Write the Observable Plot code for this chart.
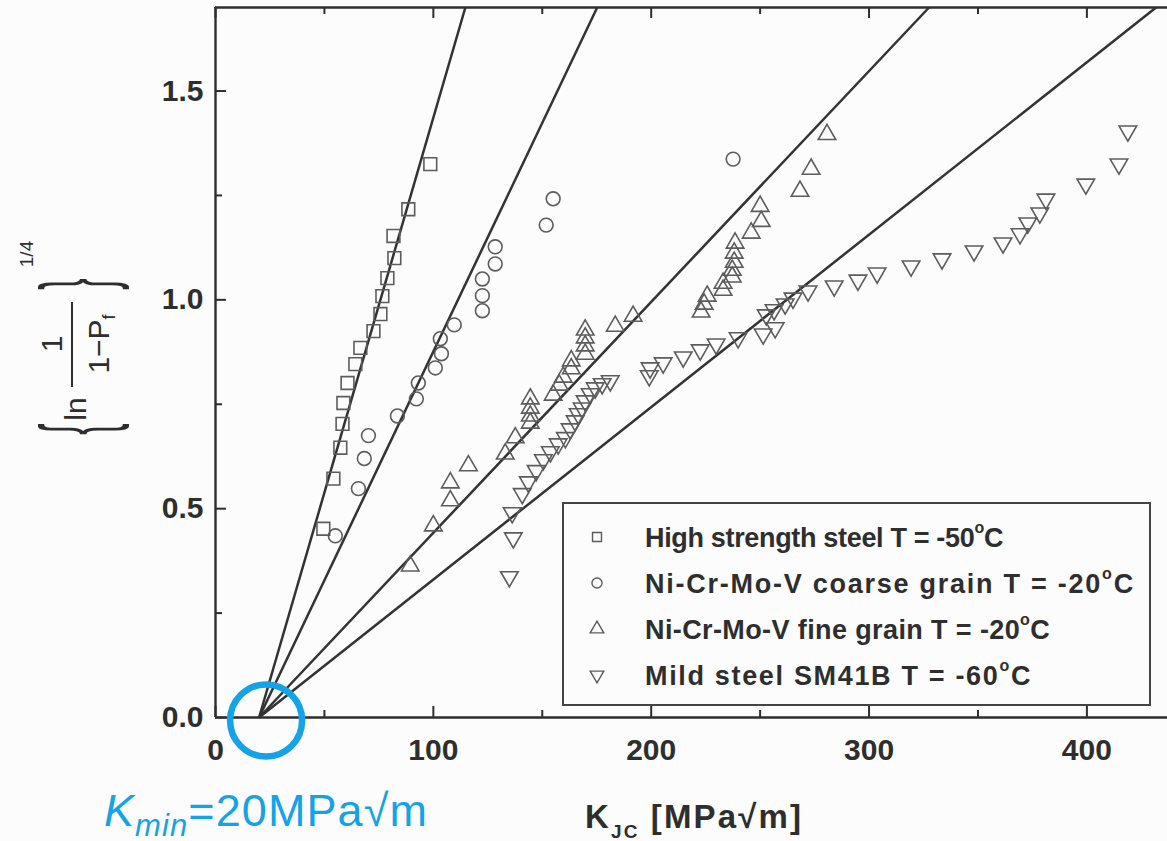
<!DOCTYPE html>
<html><head><meta charset="utf-8">
<script src="https://cdn.jsdelivr.net/npm/d3@7"></script>
<script src="https://cdn.jsdelivr.net/npm/@observablehq/plot@0.6"></script>
<style>html,body{margin:0;padding:0;background:#fff;overflow:hidden;} svg{display:block}</style>
</head><body><div id="chart"></div>
<script>
// ---------- data ----------
const seriesNames = [
  "High strength steel T = -50",
  "Ni-Cr-Mo-V coarse grain T = -20",
  "Ni-Cr-Mo-V fine grain T = -20",
  "Mild steel SM41B T = -60"
];
const highStrengthK = [98.6, 88.5, 81.7, 82.1, 78.9, 76.6, 75.7, 72.5, 66.5, 64.2, 60.6, 58.7, 58.3, 57.3, 54.1, 49.5];
const highStrengthY = [1.325, 1.217, 1.153, 1.100, 1.052, 1.009, 0.966, 0.925, 0.885, 0.846, 0.801, 0.753, 0.703, 0.646, 0.572, 0.452];

const coarseK = [237.6, 155.0, 151.8, 128.4, 128.4, 122.5, 122.5, 122.5, 109.6, 103.2, 103.7, 100.9, 93.1, 92.2, 83.5, 70.2, 68.3, 65.6, 55.0];
const coarseY = [1.337, 1.242, 1.179, 1.127, 1.086, 1.050, 1.010, 0.974, 0.940, 0.907, 0.871, 0.837, 0.801, 0.763, 0.722, 0.675, 0.620, 0.548, 0.435];

const fineK = [280.7, 273.4, 268.3, 250.0, 250.5, 245.9, 238.5, 238.1, 238.1, 237.2, 237.2, 233.0, 233.0, 225.7, 224.3, 222.9, 191.7, 183.5, 169.7, 169.7, 169.7, 169.7, 163.3, 163.3, 159.6, 157.8, 155.0, 144.5, 144.5, 144.5, 144.5, 137.6, 133.0, 116.1, 107.8, 107.8, 100.0, 89.4];
const fineY = [1.396, 1.313, 1.260, 1.224, 1.188, 1.160, 1.136, 1.112, 1.090, 1.071, 1.055, 1.040, 1.023, 1.009, 0.990, 0.971, 0.961, 0.937, 0.928, 0.909, 0.890, 0.870, 0.854, 0.835, 0.815, 0.796, 0.772, 0.763, 0.741, 0.722, 0.705, 0.670, 0.631, 0.603, 0.562, 0.519, 0.459, 0.363];

const mildK = [418.8, 414.7, 399.5, 381.2, 378.4, 372.9, 369.3, 361.5, 348.2, 333.5, 319.3, 303.7, 294.9, 284.0, 272.0, 265.1, 261.5, 256.4, 252.8, 256.9, 251.4, 239.9, 229.8, 222.5, 214.7, 205.5, 199.5, 199.1, 181.2, 177.5, 174.3, 172.0, 169.7, 168.3, 166.5, 165.1, 162.8, 160.6, 157.3, 153.7, 150.5, 147.2, 143.6, 140.8, 136.2, 136.7, 134.9];
const mildY = [1.404, 1.325, 1.277, 1.241, 1.208, 1.184, 1.158, 1.136, 1.117, 1.098, 1.081, 1.064, 1.047, 1.033, 1.021, 1.004, 0.990, 0.976, 0.964, 0.933, 0.918, 0.909, 0.894, 0.880, 0.863, 0.849, 0.837, 0.818, 0.806, 0.799, 0.789, 0.775, 0.758, 0.741, 0.727, 0.710, 0.691, 0.670, 0.655, 0.636, 0.617, 0.591, 0.564, 0.536, 0.490, 0.430, 0.337];

// Weibull fits: K0 (MPa√m) per series, common Kmin
const Kmin = 20;
const fitK0 = [75.7, 111.3, 200.9, 262.2];

const xTickLabels = [0, 100, 200, 300, 400];
const xMinorTicks = [50, 150, 250, 350];
const yTickLabels = [0.0, 0.5, 1.0, 1.5];
const yMinorTicks = [0.25, 0.75, 1.25];

// ---------- layout ----------
const W = 1167, H = 841;
const mL = 215, mR = 0, mT = 7, mB = 124;
const xMax = 437, yMax = 1.7;
const pxX = xMax / (W - mL - mR);
const pxY = yMax / (H - mT - mB);
const ink = "#2e2e2e";
const markInk = "#5c5c5c";
const blue = "#14a3e6";
const legendWidths = [358, 490, 405, 387];

const pts = (ks, ys) => ks.map((k, i) => ({k, p: ys[i]}));
const invTri = {
  draw(ctx, size) {
    const y = -Math.sqrt(size / (3 * Math.sqrt(3)));
    ctx.moveTo(0, -y * 2);
    ctx.lineTo(-Math.sqrt(3) * y, y);
    ctx.lineTo(Math.sqrt(3) * y, y);
    ctx.closePath();
  }
};
const fits = fitK0.map(k0 => ({k0, kTop: Kmin + yMax * (k0 - Kmin)}));

const chart = Plot.plot({
  width: W, height: H,
  marginLeft: mL, marginRight: mR, marginTop: mT, marginBottom: mB,
  x: {domain: [0, xMax], axis: null},
  y: {domain: [0, yMax], axis: null},
  style: {background: "#fcfcfc", fontFamily: "'Liberation Sans', Arial, sans-serif", color: ink, overflow: "visible"},
  marks: [
    // frame
    Plot.ruleY([0], {stroke: ink, strokeWidth: 2.6}),
    Plot.ruleY([yMax], {stroke: ink, strokeWidth: 2.4}),
    Plot.ruleX([0], {stroke: ink, strokeWidth: 2.4}),
    // inward ticks
    Plot.ruleX(xTickLabels, {x: d => d, y1: 0, y2: 11 * pxY, stroke: ink, strokeWidth: 2}),
    Plot.ruleX(xMinorTicks, {x: d => d, y1: 0, y2: 7 * pxY, stroke: ink, strokeWidth: 2}),
    Plot.ruleX(xTickLabels, {x: d => d, y1: yMax - 11 * pxY, y2: yMax, stroke: ink, strokeWidth: 2}),
    Plot.ruleX(xMinorTicks, {x: d => d, y1: yMax - 7 * pxY, y2: yMax, stroke: ink, strokeWidth: 2}),
    Plot.ruleY(yTickLabels, {y: d => d, x1: 0, x2: 11 * pxX, stroke: ink, strokeWidth: 2}),
    Plot.ruleY(yMinorTicks, {y: d => d, x1: 0, x2: 7 * pxX, stroke: ink, strokeWidth: 2}),
    // tick labels
    Plot.text(xTickLabels, {x: d => d, y: 0, dy: 33, text: d => String(d), fontSize: 30, fontWeight: "bold", fill: ink}),
    Plot.text(yTickLabels, {x: 0, y: d => d, dx: -12, textAnchor: "end", text: d => d.toFixed(1), fontSize: 30, fontWeight: "bold", fill: ink}),
    // fitted lines
    Plot.link(fits, {x1: Kmin, y1: 0, x2: d => d.kTop, y2: yMax, stroke: "#333", strokeWidth: 2.5}),
    // data
    Plot.dot(pts(highStrengthK, highStrengthY), {x: "k", y: "p", symbol: "square", r: 7.2, stroke: markInk, strokeWidth: 1.6, fill: "none"}),
    Plot.dot(pts(coarseK, coarseY), {x: "k", y: "p", symbol: "circle", r: 6.9, stroke: markInk, strokeWidth: 1.6, fill: "none"}),
    Plot.dot(pts(fineK, fineY), {x: "k", y: "p", symbol: "triangle", r: 6.5, stroke: markInk, strokeWidth: 1.6, fill: "none"}),
    Plot.dot(pts(mildK, mildY), {x: "k", y: "p", symbol: invTri, r: 6.5, stroke: markInk, strokeWidth: 1.6, fill: "none"}),
    // Kmin highlight
    Plot.dot([Kmin], {x: d => d, y: 0, dx: 7, dy: 3, r: 36, stroke: blue, strokeWidth: 6.5, fill: "none"})
  ]
});
document.getElementById("chart").appendChild(chart);

const svg = d3.select(chart);
const font = "'Liberation Sans', Arial, sans-serif";
function fitWidth(sel, target) {
  const node = sel.node();
  const w = node.getComputedTextLength();
  const n = node.textContent.length;
  if (n > 1) sel.attr("letter-spacing", ((target - w) / n).toFixed(2));
}

// ---------- legend ----------
const lg = svg.append("g").attr("font-family", font).attr("text-anchor", "start");
lg.append("rect").attr("x", 563).attr("y", 503).attr("width", 587).attr("height", 202)
  .attr("fill", "#fcfcfc").attr("stroke", "#444").attr("stroke-width", 2);
const legendSymbols = [d3.symbolSquare, d3.symbolCircle, d3.symbolTriangle, invTri];
seriesNames.forEach((name, i) => {
  const cy = 537 + i * 46;
  lg.append("path").attr("d", d3.symbol(legendSymbols[i], 80)())
    .attr("transform", `translate(597,${cy})`).attr("fill", "none").attr("stroke", markInk).attr("stroke-width", 1.4);
  const t = lg.append("text").attr("x", 645).attr("y", cy + 10).attr("text-anchor", "start")
    .attr("font-size", 27).attr("font-weight", "bold").attr("fill", ink);
  t.append("tspan").text(name);
  t.append("tspan").attr("font-size", 16).attr("dy", -14).text("o");
  t.append("tspan").attr("dy", 14).text("C");
  fitWidth(t, legendWidths[i]);
});

// ---------- x label ----------
const xl = svg.append("text").attr("x", 585).attr("y", 828).attr("font-family", font).attr("text-anchor", "start")
  .attr("font-weight", "bold").attr("font-size", 33).attr("fill", ink);
xl.append("tspan").text("K");
xl.append("tspan").attr("font-size", 19).attr("dy", 10).text("JC");
xl.append("tspan").attr("dy", -10).text(" [MPa\u221Am]");
fitWidth(xl, 218);

// ---------- Kmin annotation ----------
const an = svg.append("text").attr("x", 104).attr("y", 826).attr("font-family", font).attr("text-anchor", "start")
  .attr("font-size", 45).attr("fill", blue);
an.append("tspan").attr("font-style", "italic").text("K");
an.append("tspan").attr("font-style", "italic").attr("font-size", 31).attr("dy", 10).text("min");
an.append("tspan").attr("dy", -10).text("=20MPa\u221Am");
fitWidth(an, 324);

// ---------- y label (rotated) ----------
const yl = svg.append("g").attr("transform", "translate(77,360) rotate(-90)")
  .attr("font-family", font).attr("fill", ink);
yl.append("text").attr("x", -69).attr("y", 0).attr("font-size", 34).attr("text-anchor", "middle")
  .attr("transform", "scale(1,2.9)").attr("dy", "0.32em").text("{");
yl.append("text").attr("x", -49).attr("y", 9).attr("font-size", 30).attr("text-anchor", "middle").text("ln");
yl.append("text").attr("x", 16).attr("y", -15).attr("font-size", 30).attr("text-anchor", "middle").text("1");
yl.append("line").attr("x1", -27).attr("x2", 58).attr("y1", -5).attr("y2", -5).attr("stroke", ink).attr("stroke-width", 2);
const den = yl.append("text").attr("x", 16).attr("y", 32).attr("font-size", 30).attr("text-anchor", "middle");
den.append("tspan").text("1\u2212P");
den.append("tspan").attr("font-size", 18).attr("dy", 6).text("f");
yl.append("text").attr("x", 76).attr("y", 0).attr("font-size", 34).attr("text-anchor", "middle")
  .attr("transform", "scale(1,2.9)").attr("dy", "0.32em").text("}");
yl.append("text").attr("x", 106).attr("y", -44).attr("font-size", 19).attr("text-anchor", "middle").text("1/4");
</script>
</body></html>
